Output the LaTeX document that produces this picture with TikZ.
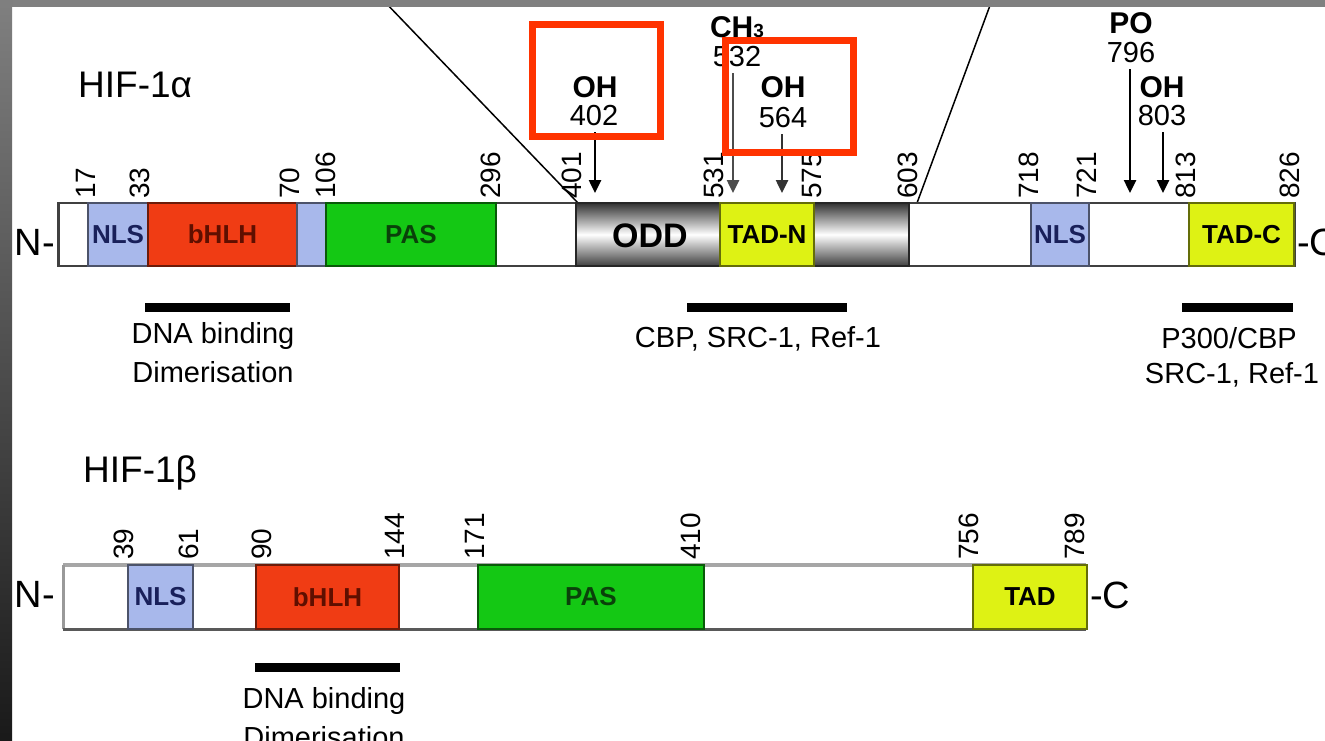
\documentclass[tikz,border=0pt]{standalone}
\usepackage{fontspec}
\setmainfont{Liberation Sans}
\usetikzlibrary{arrows.meta,positioning,calc}
\definecolor{hifblue}{RGB}{168,184,235}
\definecolor{hifred}{RGB}{240,60,20}
\definecolor{hifgreen}{RGB}{20,200,20}
\definecolor{hifyellow}{RGB}{222,242,20}
\definecolor{hifnavy}{RGB}{25,32,90}
\definecolor{hifmaroon}{RGB}{95,15,0}
\definecolor{hifforest}{RGB}{10,65,10}
\definecolor{hifbox}{RGB}{255,51,0}

\begin{document}
\begin{tikzpicture}[x=1pt, y=-1pt,
    dom/.style={draw, line width=2pt, minimum height=63pt, inner sep=0pt,
                anchor=west, font=\fontsize{26}{28}\selectfont\bfseries},
    num/.style={rotate=90, anchor=west, inner sep=0pt,
                font=\fontsize{28}{30}\selectfont},
    modlab/.style={inner sep=0pt, anchor=base,
                   font=\fontsize{30}{32}\selectfont\bfseries},
    modnum/.style={inner sep=0pt, anchor=base,
                   font=\fontsize{29}{31}\selectfont},
    modarr/.style={-{Triangle[width=12pt,length=13pt]}, line width=2.5pt,
                   shorten <=7pt},
    hlbox/.style={draw=hifbox, line width=7pt},
    bindbar/.style={line width=9pt},
    bindtxt/.style={anchor=base, inner sep=0pt,
                    font=\fontsize{29}{31}\selectfont},
    protlab/.style={anchor=base west, inner sep=0pt,
                    font=\fontsize{37}{39}\selectfont},
    termlab/.style={inner sep=0pt, font=\fontsize{38}{40}\selectfont},
  ]
  \useasboundingbox (0,0) rectangle (1325,740);
  \clip (0,0) rectangle (1325,740);
  \fill[white] (0,0) rectangle (1325,740);

  % --- zoom lines (ODD region) ---
  \coordinate (zoomL) at (578,203);
  \coordinate (zoomLt) at (383,0);
  \coordinate (zoomR) at (917,203);
  \coordinate (zoomRt) at (992,0);
  \draw[line width=1.5pt] (zoomL) -- (zoomLt);
  \draw[line width=1.5pt] (zoomR) -- (zoomRt);

  % --- HIF-1alpha ---
  \node[protlab] (hifA) at (78,97) {HIF-1α};
  \node[draw=black!75, line width=2.5pt, fill=white, minimum width=1236pt,
        minimum height=63pt, inner sep=0pt, anchor=west] (barA) at (57,234.5) {};
  \node[dom, top color=black!80, bottom color=black!75, middle color=white,
        draw=black!85, minimum width=333pt] (oddA) at (575,234.5) {};
  \node[inner sep=0pt, font=\fontsize{34}{36}\selectfont\bfseries]
    (oddlab) at (650,236) {ODD};
  \foreach \xa/\xb/\dcol/\tcol/\lab/\nm in {
      87/147/hifblue/hifnavy/NLS/nlsA,
      147/296/hifred/hifmaroon/bHLH/bhlhA,
      296/325/hifblue/hifnavy//stripA,
      325/495/hifgreen/hifforest/PAS/pasA,
      719/813/hifyellow/black/TAD-N/tadnA,
      1030/1088/hifblue/hifnavy/NLS/nlsbA,
      1188/1293/hifyellow/black/TAD-C/tadcA} {
    \node[dom, fill=\dcol, draw=\dcol!45!black, text=\tcol,
          minimum width={(\xb-\xa)*1pt}] (\nm) at (\xa,234.5) {\lab};
  }
  \foreach \xc/\num in {86/17, 140/33, 290/70, 326/106, 491/296, 572/401,
      714/531, 812/575, 908/603, 1029/718, 1087/721, 1186/813, 1290/826}
    \node[num] (a\num) at (\xc,199) {\num};
  \node[termlab, anchor=base east] (nA) at (55,255) {N-};
  \node[termlab, anchor=base west] (cA) at (1297,255) {-C};

  % modification sites
  \coordinate (t402) at (595,193);
  \coordinate (t532) at (733,193);
  \coordinate (t564) at (782,193);
  \coordinate (t796) at (1130,193);
  \coordinate (t803) at (1163,193);
  \node[modlab] (l402) at (595,97) {OH};
  \node[modnum] (n402) at (594,125) {402};
  \node[modlab] (l532) at (737,37)
    {CH{\fontsize{19}{19}\selectfont 3}};
  \node[modnum] (n532) at (737,66) {532};
  \node[modlab] (l564) at (783,97) {OH};
  \node[modnum] (n564) at (783,127) {564};
  \node[modlab] (l796) at (1131,33) {PO};
  \node[modnum] (n796) at (1131,62) {796};
  \node[modlab] (l803) at (1162,97) {OH};
  \node[modnum] (n803) at (1162,125) {803};
  \draw[modarr] (n402.south -| t402) -- (t402);
  \draw[modarr, black!70] (n532.south -| t532) -- (t532);
  \draw[modarr, black!80] (n564.south -| t564) -- (t564);
  \draw[modarr] (n796.south -| t796) -- (t796);
  \draw[modarr] (n803.south -| t803) -- (t803);
  \draw[hlbox] (532.5,24.5) rectangle (660.5,136.5);
  \draw[hlbox] (725.5,40.5) rectangle (853.5,152.5);

  % binding partners
  \draw[bindbar] (145,307) -- (290,307);
  \draw[bindbar] (687,307) -- (847,307);
  \draw[bindbar] (1182,307) -- (1293,307);
  \node[bindtxt] (dnaA) at (213,343) {DNA binding};
  \node[bindtxt] (dimA) at (213,382) {Dimerisation};
  \node[bindtxt] (cbpA) at (758,347) {CBP, SRC-1, Ref-1};
  \node[bindtxt] (p300A) at (1229,348) {P300/CBP};
  \node[bindtxt] (srcA) at (1232,383) {SRC-1, Ref-1};

  % --- HIF-1beta ---
  \node[protlab] (hifB) at (83,482) {HIF-1β};
  \node[fill=white, minimum width=1023pt, minimum height=64pt, inner sep=0pt,
        anchor=west] (barB) at (63,597) {};
  \draw[line width=4pt, black!35] (barB.north west) -- (barB.north east);
  \draw[line width=3pt, black!40] (barB.north west) -- (barB.south west);
  \draw[line width=3pt, black!65] (barB.south west) -- (barB.south east);
  \foreach \xa/\xb/\dcol/\tcol/\lab/\nm in {
      127/192/hifblue/hifnavy/NLS/nlsB,
      255/398/hifred/hifmaroon/bHLH/bhlhB,
      477/703/hifgreen/hifforest/PAS/pasB,
      972/1086/hifyellow/black/TAD/tadB} {
    \node[dom, minimum height=64pt, fill=\dcol, draw=\dcol!45!black,
          text=\tcol, minimum width={(\xb-\xa)*1pt}] (\nm) at (\xa,597) {\lab};
  }
  \foreach \xc/\num in {124/39, 189/61, 262/90, 395/144, 475/171, 691/410,
      969/756, 1075/789}
    \node[num] (b\num) at (\xc,560) {\num};
  \node[termlab, anchor=base east] (nB) at (55,607) {N-};
  \node[termlab, anchor=base west] (cB) at (1090,608) {-C};
  \draw[bindbar] (255,667) -- (400,667);
  \node[bindtxt] (dnaB) at (324,708) {DNA binding};
  \node[bindtxt] (dimB) at (324,747) {Dimerisation};

  % --- frame ---
  \fill[black!50] (0,0) rectangle (1325,7);
  \shade[top color=black!50, bottom color=black!90] (0,0) rectangle (12,740);
\end{tikzpicture}
\end{document}
